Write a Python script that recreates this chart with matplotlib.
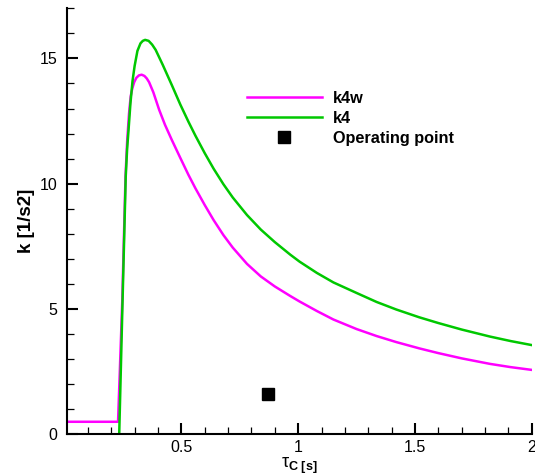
import numpy as np
import matplotlib.pyplot as plt
from matplotlib.ticker import MultipleLocator

plt.rcParams['font.family'] = ['Liberation Sans', 'DejaVu Sans']
plt.rcParams['mathtext.fontset'] = 'custom'
plt.rcParams['mathtext.rm'] = 'Liberation Sans'
plt.rcParams['mathtext.it'] = 'Liberation Sans:italic'
plt.rcParams['mathtext.bf'] = 'Liberation Sans:bold'

# k4w (magenta)
x_k4w = [0.01, 0.229, 0.247, 0.261, 0.268, 0.276, 0.283, 0.290, 0.298, 0.307,
         0.318, 0.330, 0.342, 0.352, 0.362, 0.380, 0.405, 0.430, 0.459, 0.496,
         0.530, 0.560, 0.600, 0.638, 0.680, 0.720, 0.781, 0.840, 0.900, 0.966,
         1.006, 1.080, 1.151, 1.250, 1.336, 1.420, 1.518, 1.600, 1.700, 1.821,
         1.910, 2.0]
y_k4w = [0.5, 0.5, 5.3, 10.3, 11.7, 12.8, 13.48, 13.8, 14.05, 14.22,
         14.32, 14.35, 14.3, 14.2, 14.05, 13.65, 12.95, 12.35, 11.75, 11.02,
         10.36, 9.82, 9.15, 8.55, 7.95, 7.45, 6.8, 6.3, 5.9, 5.52,
         5.3, 4.92, 4.58, 4.2, 3.92, 3.68, 3.43, 3.24, 3.03, 2.81,
         2.68, 2.57]

# k4 (green)
x_k4 = [0.234, 0.248, 0.262, 0.268, 0.274, 0.282, 0.291, 0.300, 0.312, 0.325,
        0.335, 0.345, 0.360, 0.375, 0.390, 0.420, 0.459, 0.496, 0.530, 0.560,
        0.600, 0.638, 0.680, 0.720, 0.781, 0.840, 0.900, 0.966, 1.006, 1.080,
        1.151, 1.250, 1.336, 1.420, 1.518, 1.600, 1.700, 1.821, 1.910, 2.0]
y_k4 = [0.0, 5.2, 10.3, 11.4, 12.15, 13.2, 14.1, 14.7, 15.3, 15.6,
        15.7, 15.74, 15.7, 15.55, 15.34, 14.75, 13.94, 13.15, 12.48, 11.92,
        11.22, 10.6, 9.98, 9.45, 8.75, 8.17, 7.67, 7.17, 6.89, 6.44,
        6.06, 5.64, 5.28, 4.98, 4.67, 4.44, 4.18, 3.9, 3.72, 3.56]

# operating point
x_op = [0.872]
y_op = [1.61]

fig = plt.figure(figsize=(5.35, 4.76), dpi=100)
ax = fig.add_axes([0.125, 0.0876, 0.869, 0.895])

ax.plot(x_k4w, y_k4w, color='#ff00ff', lw=1.8, label='k4w')
ax.plot(x_k4, y_k4, color='#00c800', lw=1.8, label='k4')
ax.plot(x_op, y_op, 's', color='black', ms=8.5, ls='none', label='Operating point')

ax.set_xlim(0.01, 2.0)
ax.set_ylim(0, 17)
ax.xaxis.set_major_locator(MultipleLocator(0.5))
ax.xaxis.set_minor_locator(MultipleLocator(0.1))
ax.yaxis.set_major_locator(MultipleLocator(5))
ax.yaxis.set_minor_locator(MultipleLocator(1))
ax.set_xticks([0.5, 1, 1.5, 2])
ax.set_xticklabels(['0.5', '1', '1.5', '2'])

ax.spines['top'].set_visible(False)
ax.spines['right'].set_visible(False)
for s in ['left', 'bottom']:
    ax.spines[s].set_linewidth(1.5)

ax.tick_params(which='major', direction='in', length=8, width=1.5, labelsize=11.5)
ax.tick_params(which='minor', direction='in', length=5, width=0.9)
ax.tick_params(axis='x', which='major', pad=4)
ax.tick_params(axis='y', which='major', pad=7)

ax.set_ylabel('k [1/s2]', fontsize=13.5, fontweight='bold', labelpad=3)
ax.set_xlabel(r'$\mathrm{\tau}_{\mathbf{C\ [s]}}$', fontsize=13, labelpad=1)

ax.legend(loc='upper left', bbox_to_anchor=(0.387, 0.806), frameon=False,
          borderaxespad=0, borderpad=0,
          handlelength=4.6, handletextpad=0.7, labelspacing=0.3,
          prop={'weight': 'bold', 'size': 11.7})

fig.savefig('out.png', dpi=100)
